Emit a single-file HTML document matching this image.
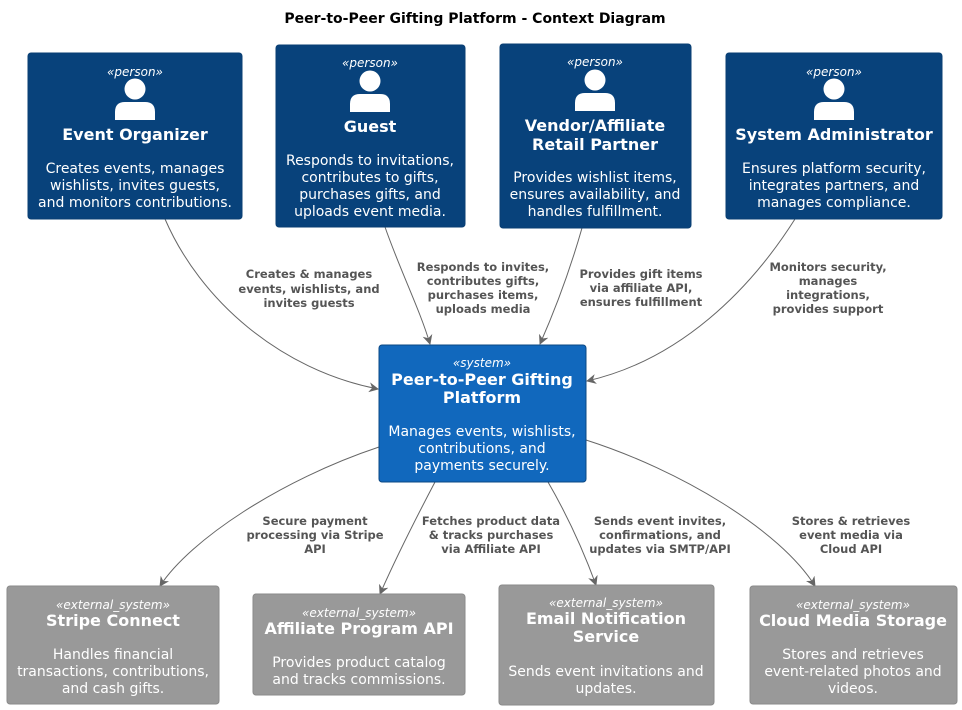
<!DOCTYPE html>
<html><head><meta charset="utf-8"><style>body{margin:0;background:#fff}svg{display:block;font-family:"DejaVu Sans","Liberation Sans",sans-serif}</style></head><body>
<svg width="962" height="710" viewBox="0 0 962 710" xmlns="http://www.w3.org/2000/svg">
<defs><marker id="a" markerWidth="10" markerHeight="10" refX="9" refY="5" orient="auto" markerUnits="userSpaceOnUse"><path d="M0,0 L10,5 L0,10 L3,5 Z" fill="#666"/></marker>
<g id="p"><circle cx="0" cy="0" r="10.5" fill="#fff"/><path d="M-20,31 L-20,23 Q-20,13 -10,13 L10,13 Q20,13 20,23 L20,31 Z" fill="#fff"/></g></defs>
<text x="475" y="23" text-anchor="middle" font-size="14" font-weight="bold">Peer-to-Peer Gifting Platform - Context Diagram</text>
<g fill="none" stroke="#666" stroke-width="1" marker-end="url(#a)">
<path d="M165,219 C200,300 280,370 378,389"/>
<path d="M385,227 C400,270 420,310 430,344"/>
<path d="M582,228 C570,270 555,310 540,344"/>
<path d="M795,219 C750,290 680,360 587,381"/>
<path d="M379,447 C280,480 190,540 160,586"/>
<path d="M435,482 C415,520 395,560 380,594"/>
<path d="M548,482 C570,520 585,555 596,585"/>
<path d="M586,440 C680,470 780,530 815,586"/>
</g>
<g font-size="11.5" font-weight="bold" fill="#555" text-anchor="middle">
<text x="309" y="278">Creates &amp; manages</text><text x="309" y="293">events, wishlists, and</text><text x="309" y="307">invites guests</text>
<text x="483" y="271">Responds to invites,</text><text x="483" y="285">contributes gifts,</text><text x="483" y="299">purchases items,</text><text x="483" y="313">uploads media</text>
<text x="641" y="278">Provides gift items</text><text x="641" y="292">via affiliate API,</text><text x="641" y="306">ensures fulfillment</text>
<text x="828" y="271">Monitors security,</text><text x="828" y="285">manages</text><text x="828" y="299">integrations,</text><text x="828" y="313">provides support</text>
<text x="315" y="525">Secure payment</text><text x="315" y="539">processing via Stripe</text><text x="315" y="553">API</text>
<text x="491" y="525">Fetches product data</text><text x="491" y="539">&amp; tracks purchases</text><text x="491" y="553">via Affiliate API</text>
<text x="660" y="525">Sends event invites,</text><text x="660" y="539">confirmations, and</text><text x="660" y="553">updates via SMTP/API</text>
<text x="851" y="525">Stores &amp; retrieves</text><text x="851" y="539">event media via</text><text x="851" y="553">Cloud API</text>
</g>
<g stroke="#0a3f73" fill="#08427b"><rect x="28" y="53" width="214" height="166" rx="3"/><rect x="276" y="45" width="189" height="182" rx="3"/><rect x="500" y="44" width="191" height="184" rx="3"/><rect x="726" y="53" width="216" height="166" rx="3"/></g>
<rect x="379" y="345" width="207" height="137" rx="3" fill="#1168bd" stroke="#0b4884"/>
<g fill="#999" stroke="#8a8a8a"><rect x="7" y="586" width="212" height="118" rx="3"/><rect x="253" y="594" width="212" height="101" rx="3"/><rect x="499" y="585" width="215" height="120" rx="3"/><rect x="750" y="586" width="207" height="118" rx="3"/></g>
<use href="#p" x="135" y="89"/><use href="#p" x="370" y="81"/><use href="#p" x="595" y="80"/><use href="#p" x="834" y="89"/>
<g fill="#fff" text-anchor="middle">
<g font-size="12" font-style="italic"><text x="135" y="76">«person»</text><text x="370" y="67">«person»</text><text x="595" y="66">«person»</text><text x="834" y="76">«person»</text><text x="482" y="367">«system»</text>
<text x="113" y="609">«external_system»</text><text x="359" y="617">«external_system»</text><text x="606" y="607">«external_system»</text><text x="853" y="609">«external_system»</text></g>
<g font-size="16" font-weight="bold"><text x="135" y="140">Event Organizer</text><text x="370" y="132">Guest</text><text x="595" y="131">Vendor/Affiliate</text><text x="595" y="150">Retail Partner</text><text x="834" y="140">System Administrator</text>
<text x="482" y="385">Peer-to-Peer Gifting</text><text x="482" y="403">Platform</text>
<text x="113" y="626">Stripe Connect</text><text x="359" y="634">Affiliate Program API</text><text x="606" y="624">Email Notification</text><text x="606" y="642">Service</text><text x="853" y="626">Cloud Media Storage</text></g>
<g font-size="14"><text x="135" y="173">Creates events, manages</text><text x="135" y="190">wishlists, invites guests,</text><text x="135" y="207">and monitors contributions.</text>
<text x="370" y="165">Responds to invitations,</text><text x="370" y="182">contributes to gifts,</text><text x="370" y="199">purchases gifts, and</text><text x="370" y="216">uploads event media.</text>
<text x="595" y="182">Provides wishlist items,</text><text x="595" y="199">ensures availability, and</text><text x="595" y="216">handles fulfillment.</text>
<text x="834" y="173">Ensures platform security,</text><text x="834" y="190">integrates partners, and</text><text x="834" y="207">manages compliance.</text>
<text x="482" y="436">Manages events, wishlists,</text><text x="482" y="453">contributions, and</text><text x="482" y="470">payments securely.</text>
<text x="113" y="659">Handles financial</text><text x="113" y="676">transactions, contributions,</text><text x="113" y="693">and cash gifts.</text>
<text x="359" y="667">Provides product catalog</text><text x="359" y="684">and tracks commissions.</text>
<text x="606" y="676">Sends event invitations and</text><text x="606" y="693">updates.</text>
<text x="853" y="659">Stores and retrieves</text><text x="853" y="676">event-related photos and</text><text x="853" y="693">videos.</text></g>
</g>
</svg>
</body></html>
